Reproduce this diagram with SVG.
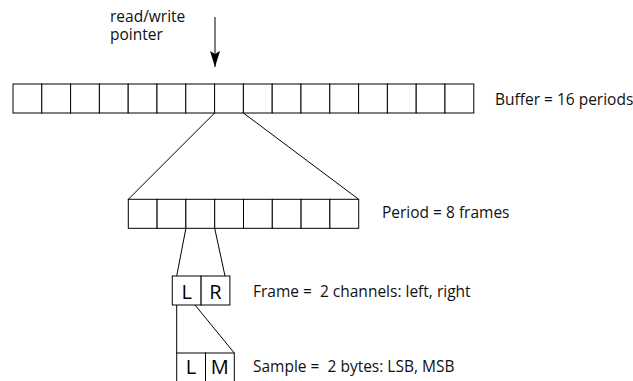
<svg xmlns="http://www.w3.org/2000/svg" width="633" height="381" viewBox="0 0 633 381">
<style>
  .cell { fill: #fff; stroke: #000; stroke-width: 1; }
  .conn { stroke: #000; stroke-width: 1; fill: none; }
  .lbl { font-family: "Open Sans", "Noto Sans", sans-serif; font-size: 15.5px; fill: #111; }
  .big { font-family: "Open Sans", "Noto Sans", sans-serif; font-size: 20px; fill: #000; text-anchor: middle; }
</style>
<defs>
  <marker id="arr" markerWidth="17" markerHeight="10" refX="16" refY="5" orient="auto" markerUnits="userSpaceOnUse" viewBox="0 0 17 10">
    <path d="M0,0 L16,5 L0,10 L3,5 Z" fill="#000"/>
  </marker>
</defs>
<rect width="633" height="381" fill="#fff"/>

<g id="pointer">
  <text class="lbl" x="110" y="22"><tspan x="110" y="22">read/write</tspan><tspan x="110" y="40">pointer</tspan></text>
</g>

<g id="buffer">
  <rect class="cell" x="13" y="84" width="28.8" height="29"/>
  <rect class="cell" x="41.8" y="84" width="28.8" height="29"/>
  <rect class="cell" x="70.6" y="84" width="28.8" height="29"/>
  <rect class="cell" x="99.4" y="84" width="28.8" height="29"/>
  <rect class="cell" x="128.2" y="84" width="28.8" height="29"/>
  <rect class="cell" x="157" y="84" width="28.8" height="29"/>
  <rect class="cell" x="185.8" y="84" width="28.8" height="29"/>
  <rect class="cell" x="214.6" y="84" width="28.8" height="29"/>
  <rect class="cell" x="243.4" y="84" width="28.8" height="29"/>
  <rect class="cell" x="272.2" y="84" width="28.8" height="29"/>
  <rect class="cell" x="301" y="84" width="28.8" height="29"/>
  <rect class="cell" x="329.8" y="84" width="28.8" height="29"/>
  <rect class="cell" x="358.6" y="84" width="28.8" height="29"/>
  <rect class="cell" x="387.4" y="84" width="28.8" height="29"/>
  <rect class="cell" x="416.2" y="84" width="28.8" height="29"/>
  <rect class="cell" x="445" y="84" width="28.8" height="29"/>
  <text class="lbl" x="495" y="105">Buffer = 16 periods</text>
</g>

<g id="period">
  <rect class="cell" x="128.3" y="199.3" width="28.8" height="29"/>
  <rect class="cell" x="157.1" y="199.3" width="28.8" height="29"/>
  <rect class="cell" x="185.9" y="199.3" width="28.8" height="29"/>
  <rect class="cell" x="214.7" y="199.3" width="28.8" height="29"/>
  <rect class="cell" x="243.5" y="199.3" width="28.8" height="29"/>
  <rect class="cell" x="272.3" y="199.3" width="28.8" height="29"/>
  <rect class="cell" x="301.1" y="199.3" width="28.8" height="29"/>
  <rect class="cell" x="329.9" y="199.3" width="28.8" height="29"/>
  <text class="lbl" x="382" y="218">Period = 8 frames</text>
</g>

<g id="frame">
  <rect class="cell" x="172.3" y="276" width="28.8" height="29"/>
  <rect class="cell" x="201.1" y="276" width="28.8" height="29"/>
  <text class="big" x="186.7" y="299">L</text>
  <text class="big" x="215.5" y="299">R</text>
  <text class="lbl" x="253" y="297" xml:space="preserve">Frame =  2 channels: left, right</text>
</g>

<g id="sample">
  <rect class="cell" x="176.7" y="353" width="28.8" height="40"/>
  <rect class="cell" x="205.5" y="353" width="28.8" height="40"/>
  <text class="big" x="191" y="374">L</text>
  <text class="big" x="219.8" y="374">M</text>
  <text class="lbl" x="253" y="372" xml:space="preserve">Sample =  2 bytes: LSB, MSB</text>
</g>

<g id="connectors">
  <line class="conn" x1="215" y1="17" x2="215" y2="67" marker-end="url(#arr)"/>
  <line class="conn" x1="214.6" y1="113" x2="128.3" y2="199.3"/>
  <line class="conn" x1="243.4" y1="113" x2="358.7" y2="199.3"/>
  <line class="conn" x1="185.9" y1="228.3" x2="176.7" y2="276"/>
  <line class="conn" x1="214.7" y1="228.3" x2="225" y2="276"/>
  <line class="conn" x1="176.7" y1="305" x2="176.7" y2="353"/>
  <line class="conn" x1="195" y1="305" x2="234.3" y2="353"/>
</g>
</svg>
